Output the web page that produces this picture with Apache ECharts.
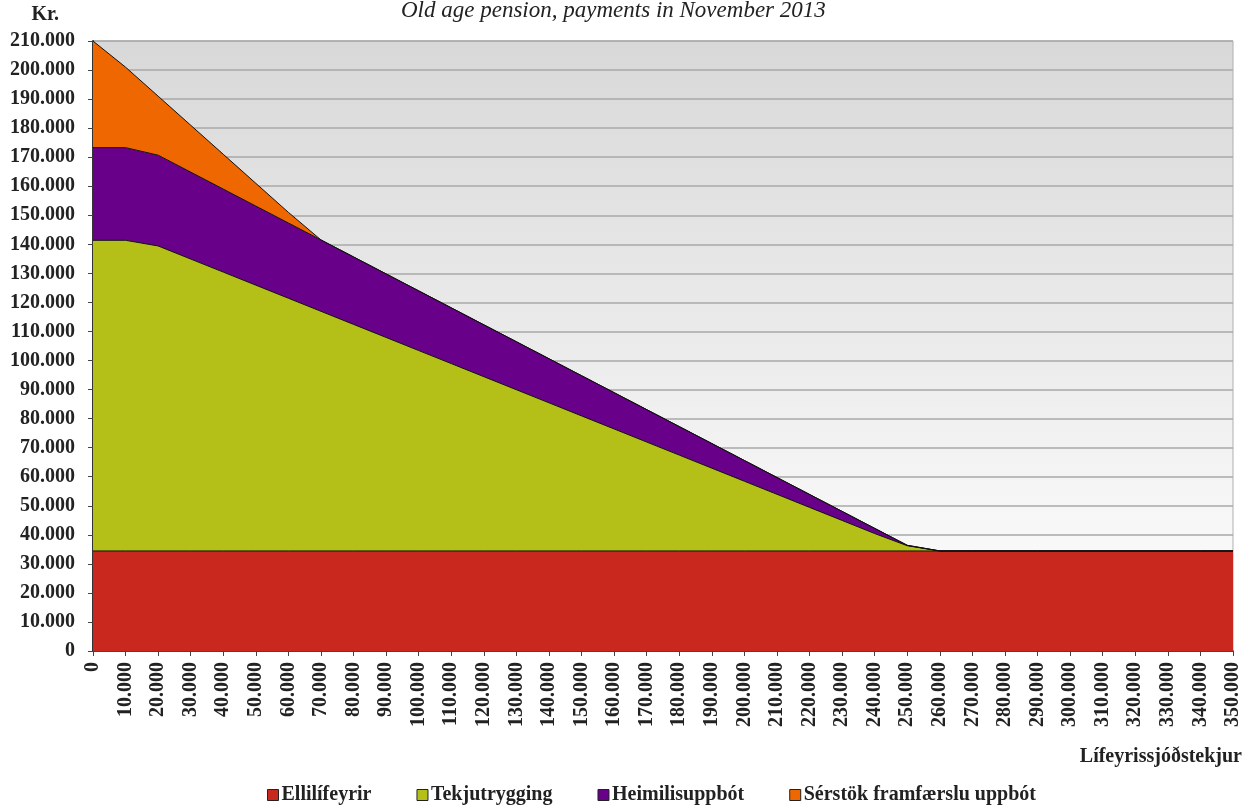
<!DOCTYPE html>
<html>
<head>
<meta charset="utf-8">
<script src="https://cdn.jsdelivr.net/npm/echarts@6/dist/echarts.min.js"></script>
<style>
  html, body { margin: 0; padding: 0; background: #fff; }
  #chart { width: 1251px; height: 807px; }
</style>
</head>
<body>
<div id="chart"></div>
<script>
// income from pension funds (kr.)
const incomes = [0, 10000, 20000, 30000, 40000, 50000, 60000, 70000, 80000, 90000,
  100000, 110000, 120000, 130000, 140000, 150000, 160000, 170000, 180000, 190000,
  200000, 210000, 220000, 230000, 240000, 250000, 260000, 270000, 280000, 290000,
  300000, 310000, 320000, 330000, 340000, 350000]

const ellilifeyrir = [34439, 34439, 34439, 34439, 34439, 34439, 34439, 34439, 34439, 34439,
  34439, 34439, 34439, 34439, 34439, 34439, 34439, 34439, 34439, 34439,
  34439, 34439, 34439, 34439, 34439, 34439, 34439, 34439, 34439, 34439,
  34439, 34439, 34439, 34439, 34439, 34439]

const tekjutrygging = [106950, 106950, 105000, 100500, 96000, 91500, 87000, 82500, 78000, 73500,
  69000, 64500, 60000, 55500, 51000, 46500, 42000, 37500, 33000, 28500,
  24000, 19500, 15000, 10500, 6000, 1800, 0, 0, 0, 0,
  0, 0, 0, 0, 0, 0]

const heimilisuppbot = [31900, 31900, 31260, 29920, 28580, 27240, 25900, 24560, 23220, 21880,
  20540, 19200, 17860, 16520, 15180, 13840, 12500, 11160, 9820, 8480,
  7140, 5800, 4460, 3120, 1780, 140, 0, 0, 0, 0,
  0, 0, 0, 0, 0, 0]

const framfaersla = [36700, 27700, 20300, 16140, 11980, 7820, 3660, 0, 0, 0,
  0, 0, 0, 0, 0, 0, 0, 0, 0, 0,
  0, 0, 0, 0, 0, 0, 0, 0, 0, 0,
  0, 0, 0, 0, 0, 0]

const seriesNames = ['Ellilífeyrir', 'Tekjutrygging', 'Heimilisuppbót', 'Sérstök framfærslu uppbót']
const seriesColors = ['#c9281f', '#b4c017', '#69008a', '#ef6700']

const font = 'Liberation Serif'

function fmt(v) {
  return String(v).replace(/\B(?=(\d{3})+(?!\d))/g, '.')
}

let chart = echarts.init(document.getElementById('chart'))

function areaSeries(idx, data) {
  return {
    name: seriesNames[idx],
    type: 'line',
    stack: 'total',
    data: data,
    symbol: 'none',
    silent: true,
    itemStyle: { color: seriesColors[idx] },
    lineStyle: { color: '#111', width: 1 },
    areaStyle: { color: seriesColors[idx], opacity: 1 }
  }
}

let option = {
  animation: false,
  title: {
    text: 'Old age pension, payments in November 2013',
    left: 396,
    top: -6,
    textStyle: { fontFamily: font, fontStyle: 'italic', fontWeight: 'normal', fontSize: 23, color: '#222' }
  },
  legend: {
    data: seriesNames,
    left: 262,
    top: 780,
    icon: 'rect',
    itemWidth: 11,
    itemHeight: 11,
    itemGap: 45,
    textStyle: { fontFamily: font, fontWeight: 'bold', fontSize: 20, color: '#222', padding: [0, 0, 0, -2] },
    itemStyle: { borderColor: '#222', borderWidth: 1 }
  },
  grid: {
    left: 93,
    right: 18,
    top: 41,
    bottom: 156,
    show: true,
    borderColor: '#b0b0b0',
    borderWidth: 1,
    backgroundColor: new echarts.graphic.LinearGradient(0, 0, 0, 1, [
      { offset: 0, color: '#d8d8d8' },
      { offset: 1, color: '#ffffff' }
    ])
  },
  xAxis: {
    type: 'category',
    data: incomes,
    boundaryGap: false,
    name: 'Lífeyrissjóðstekjur',
    nameLocation: 'end',
    nameGap: 9,
    nameTextStyle: {
      fontFamily: font, fontWeight: 'bold', fontSize: 20, color: '#222',
      align: 'right', verticalAlign: 'top', padding: [96, 0, 0, 0]
    },
    axisLine: { lineStyle: { color: '#222', width: 1.5 } },
    axisTick: { show: true, length: 5, lineStyle: { color: '#444' } },
    axisLabel: {
      rotate: 90,
      interval: 0,
      margin: 11,
      formatter: v => fmt(v),
      fontFamily: font, fontWeight: 'bold', fontSize: 20, color: '#222'
    },
    splitLine: { show: false }
  },
  yAxis: {
    type: 'value',
    min: 0,
    max: 210000,
    interval: 10000,
    name: 'Kr.',
    nameLocation: 'end',
    nameGap: 26,
    nameTextStyle: {
      fontFamily: font, fontWeight: 'bold', fontSize: 20, color: '#222',
      align: 'right', verticalAlign: 'middle', padding: [0, 34, 0, 0]
    },
    axisLine: { show: true, lineStyle: { color: '#333', width: 2 } },
    axisTick: { show: true, length: 5, lineStyle: { color: '#444' } },
    axisLabel: {
      margin: 18,
      formatter: v => fmt(v),
      fontFamily: font, fontWeight: 'bold', fontSize: 20, color: '#222'
    },
    splitLine: { lineStyle: { color: '#a8a8a8', width: 1.5 } }
  },
  series: [
    areaSeries(0, ellilifeyrir),
    areaSeries(1, tekjutrygging),
    areaSeries(2, heimilisuppbot),
    areaSeries(3, framfaersla)
  ]
}

chart.setOption(option)
</script>
</body>
</html>
